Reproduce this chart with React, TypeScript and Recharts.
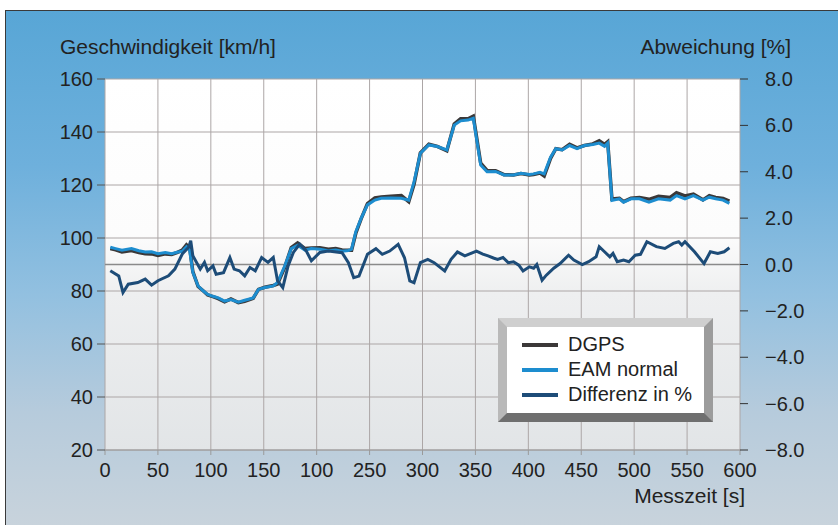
import React from "react";
import {
  ComposedChart,
  Line,
  XAxis,
  YAxis,
  CartesianGrid,
  ReferenceLine,
  Legend,
} from "recharts";

// Messzeit [s] for the speed traces
const speedTimes = [
  5, 10, 16, 25, 32, 38, 44, 50, 57, 63, 68, 73, 77, 80, 83, 88, 93, 97, 102,
  107, 113, 119, 126, 132, 140, 145, 151, 159, 163, 170, 176, 182, 189, 195,
  203, 211, 218, 224, 230, 233, 237, 242, 248, 255, 261, 270, 280, 287, 292,
  298, 306, 314, 323, 330, 336, 343, 348, 355, 361, 369, 377, 386, 393, 401,
  405, 411, 415, 421, 426, 432, 439, 446, 453, 461, 467, 472, 475, 479, 486,
  490, 497, 505, 514, 523, 534, 540, 548, 556, 565, 571, 577, 584, 590,
];

// Geschwindigkeit [km/h]
const eamSpeed = [
  96.5, 96, 95.4, 96, 95.2, 94.7, 94.8, 94.1, 94.5, 94.1, 94.6, 95, 96.7, 95.4,
  87, 81.9, 80, 78.7, 78, 77.4, 76.2, 76.8, 75.8, 76.5, 77.4, 80.6, 81.3, 81.9,
  83.2, 89.6, 96, 97.3, 95.4, 96, 95.8, 95.2, 95.5, 95, 95.3, 95.8, 102.4,
  107.4, 112.5, 114.3, 115, 115.1, 115, 114.3, 121.2, 132, 135.1, 134.5, 133.2,
  142.6, 144.2, 144.5, 145.2, 127.5, 125, 125.1, 123.8, 123.8, 124.4, 124,
  124.2, 124.8, 124.2, 130.5, 133.7, 133.2, 134.9, 133.7, 134.9, 135.3, 135.8,
  134.6, 135.8, 114.2, 114.8, 113.5, 114.8, 114.8, 113.5, 114.8, 114.3, 116,
  114.8, 116, 114.3, 115.4, 114.8, 114.3, 113.1,
];

const dgpsSpeed = [
  96.0, 95.5, 94.7, 95.3, 94.5, 94.1, 94.0, 93.4, 94.0, 93.8, 94.5, 95.4, 97.4,
  96.3, 87.3, 81.7, 80.0, 78.5, 77.9, 77.1, 75.9, 77.0, 75.6, 76.1, 77.2, 80.6,
  81.4, 82.1, 82.6, 89.1, 96.4, 98.1, 96.0, 96.2, 96.3, 95.8, 96.0, 95.5, 95.4,
  95.4, 101.8, 107.2, 113.0, 115.1, 115.5, 115.8, 116.0, 113.7, 120.3, 132.1,
  135.4, 134.6, 132.9, 143.0, 145.0, 145.0, 146.0, 128.2, 125.5, 125.4, 123.9,
  123.8, 124.3, 123.8, 124.0, 124.5, 123.4, 130.0, 133.7, 133.3, 135.4, 134.0,
  134.9, 135.5, 136.7, 135.3, 136.3, 114.7, 115.0, 113.7, 115.0, 115.3, 114.6,
  115.7, 115.3, 117.1, 115.9, 116.6, 114.4, 116.0, 115.3, 114.9, 113.9,
];

// Abweichung [%]
const diffTimes = [
  5, 13, 17, 22, 31, 38, 44, 50, 60, 66, 73, 79, 81, 83, 90, 94, 97, 102, 105,
  112, 118, 122, 127, 132, 137, 142, 148, 154, 159, 163, 168, 173, 178, 184,
  190, 195, 203, 211, 224, 230, 235, 240, 248, 256, 262, 269, 277, 283, 288,
  292, 298, 305, 311, 321, 327, 333, 340, 351, 357, 362, 367, 371, 376, 381,
  386, 391, 395, 401, 405, 408, 413, 417, 424, 430, 438, 443, 451, 457, 464,
  467, 472, 477, 480, 484, 490, 495, 501, 506, 512, 521, 529, 537, 542, 545,
  548, 557, 566, 572, 579, 585, 590,
];

const diffValues = [
  -0.27, -0.49, -1.21, -0.85, -0.78, -0.63, -0.89, -0.7, -0.49, -0.2, 0.45,
  0.74, 1.03, 0.38, -0.2, 0.09, -0.27, -0.06, -0.42, -0.35, 0.3, -0.2, -0.27,
  -0.49, -0.13, -0.27, 0.3, 0.09, 0.3, -0.7, -1.0, -0.06, 0.52, 0.88, 0.6,
  0.16, 0.52, 0.58, 0.51, 0.08, -0.57, -0.5, 0.44, 0.68, 0.44, 0.58, 0.87,
  0.29, -0.71, -0.79, 0.08, 0.22, 0.08, -0.28, 0.22, 0.54, 0.37, 0.58, 0.45,
  0.37, 0.28, 0.22, 0.3, 0.08, 0.12, -0.03, -0.28, -0.1, -0.16, 0, -0.68,
  -0.46, -0.16, 0.04, 0.4, 0.19, 0, 0.12, 0.33, 0.77, 0.55, 0.33, 0.48, 0.12,
  0.19, 0.12, 0.4, 0.44, 0.98, 0.77, 0.69, 0.91, 0.98, 0.84, 0.98, 0.55, 0.04,
  0.55, 0.48, 0.55, 0.72,
];

const xTicks = [0, 50, 100, 150, 200, 250, 300, 350, 400, 450, 500, 550, 600];
const xTickLabels = [
  "0", "50", "100", "150", "100", "250", "300", "350", "400", "450", "500", "550", "600",
];
const speedTicks = [20, 40, 60, 80, 100, 120, 140, 160];
const pctTicks = [-8, -6, -4, -2, 0, 2, 4, 6, 8];
const legendOrder = ["DGPS", "EAM normal", "Differenz in %"];

const speedRows = speedTimes.map((t, i) => ({
  t,
  dgps: dgpsSpeed[i],
  eam: eamSpeed[i],
}));
const diffRows = diffTimes.map((t, i) => ({ t, diff: diffValues[i] }));

const font = '"Liberation Sans", Arial, sans-serif';
const tickStyle = { fontSize: 20, fill: "#222", fontFamily: font };
const titleStyle: React.CSSProperties = {
  position: "absolute",
  fontFamily: font,
  fontSize: 21,
  color: "#222",
  whiteSpace: "nowrap",
};

function fmtPct(v: number) {
  const s = Math.abs(v).toFixed(1);
  return v < 0 ? "\u2212" + s : s;
}

function LegendBox(props: any) {
  const items = [...(props.payload || [])].sort(
    (a: any, b: any) => legendOrder.indexOf(a.value) - legendOrder.indexOf(b.value)
  );
  return (
    <div
      style={{
        boxSizing: "border-box",
        width: 215,
        height: 104,
        borderStyle: "solid",
        borderWidth: 9,
        borderTopColor: "#cfcfcf",
        borderLeftColor: "#b9b9b9",
        borderRightColor: "#9c9c9c",
        borderBottomColor: "#6f6f6f",
        background: "#fff",
        paddingTop: 5,
        fontFamily: font,
        fontSize: 20,
        color: "#222",
      }}
    >
      {items.map((it: any) => (
        <div
          key={it.value}
          style={{ display: "flex", alignItems: "center", height: 25 }}
        >
          <span
            style={{
              display: "inline-block",
              width: 36,
              height: 4,
              marginLeft: 15,
              marginRight: 10,
              background: it.color,
            }}
          />
          <span>{it.value}</span>
        </div>
      ))}
    </div>
  );
}

export default function App() {
  return (
    <div
      style={{
        position: "absolute",
        left: 0,
        top: 0,
        width: 838,
        height: 525,
        background: "#fff",
        overflow: "hidden",
      }}
    >
      <div
        style={{
          position: "absolute",
          left: 5,
          top: 10,
          right: 0,
          bottom: 0,
          borderTop: "1.5px solid #3a3a3a",
          borderLeft: "1.5px solid #3a3a3a",
          background:
            "linear-gradient(180deg, #58a6d6 0%, #6eb0dc 30%, #92c0e0 55%, #b6cbdc 78%, #c8d3dc 100%)",
        }}
      />
      <div style={{ ...titleStyle, left: 60, top: 35 }}>
        Geschwindigkeit [km/h]
      </div>
      <div style={{ ...titleStyle, right: 47, top: 35 }}>Abweichung [%]</div>
      <div style={{ ...titleStyle, right: 93, top: 484 }}>Messzeit [s]</div>
      <div style={{ position: "absolute", left: 0, top: 0 }}>
        <ComposedChart
          width={838}
          height={525}
          margin={{ top: 79, right: 0, bottom: 45, left: 0 }}
        >
          <defs>
            <linearGradient id="plotBg" x1="0" y1="0" x2="0" y2="1">
              <stop offset="0%" stopColor="#ffffff" />
              <stop offset="42%" stopColor="#fcfcfc" />
              <stop offset="58%" stopColor="#eeeff0" />
              <stop offset="100%" stopColor="#e2e5e7" />
            </linearGradient>
          </defs>
          <CartesianGrid
            yAxisId="left"
            stroke="#aca6a6"
            strokeWidth={1}
            fill="url(#plotBg)"
            fillOpacity={1}
          />
          <XAxis
            dataKey="t"
            type="number"
            domain={[0, 600]}
            ticks={xTicks}
            tickFormatter={(v: number) => xTickLabels[xTicks.indexOf(v)]}
            allowDuplicatedCategory={false}
            height={30}
            tickLine={{ stroke: "#9a9a9a" }}
            tickSize={5}
            tickMargin={8}
            axisLine={{ stroke: "#9a9a9a" }}
            tick={tickStyle}
            interval={0}
          />
          <YAxis
            yAxisId="left"
            orientation="left"
            domain={[20, 160]}
            ticks={speedTicks}
            width={105}
            axisLine={false}
            tickLine={{ stroke: "#555" }}
            tickSize={8}
            tickMargin={4}
            tick={tickStyle}
            interval={0}
          />
          <YAxis
            yAxisId="right"
            orientation="right"
            domain={[-8, 8]}
            ticks={pctTicks}
            tickFormatter={fmtPct}
            width={98}
            axisLine={false}
            tickLine={{ stroke: "#333" }}
            tickSize={8}
            tickMargin={17}
            tick={tickStyle}
            interval={0}
          />
          <ReferenceLine
            yAxisId="right"
            y={0}
            stroke="#8a8a8a"
            strokeWidth={1.5}
          />
          <Line
            yAxisId="left"
            data={speedRows}
            dataKey="dgps"
            name="DGPS"
            type="linear"
            stroke="#3b3838"
            strokeWidth={3.5}
            dot={false}
            isAnimationActive={false}
          />
          <Line
            yAxisId="left"
            data={speedRows}
            dataKey="eam"
            name="EAM normal"
            type="linear"
            stroke="#1d8dcf"
            strokeWidth={3}
            dot={false}
            isAnimationActive={false}
          />
          <Line
            yAxisId="right"
            data={diffRows}
            dataKey="diff"
            name="Differenz in %"
            type="linear"
            stroke="#1d4c78"
            strokeWidth={3}
            dot={false}
            isAnimationActive={false}
          />
          <Legend
            layout="vertical"
            align="center"
            verticalAlign="middle"
            content={LegendBox}
            wrapperStyle={{ left: 498, top: 318, width: 215 }}
          />
        </ComposedChart>
      </div>
    </div>
  );
}
